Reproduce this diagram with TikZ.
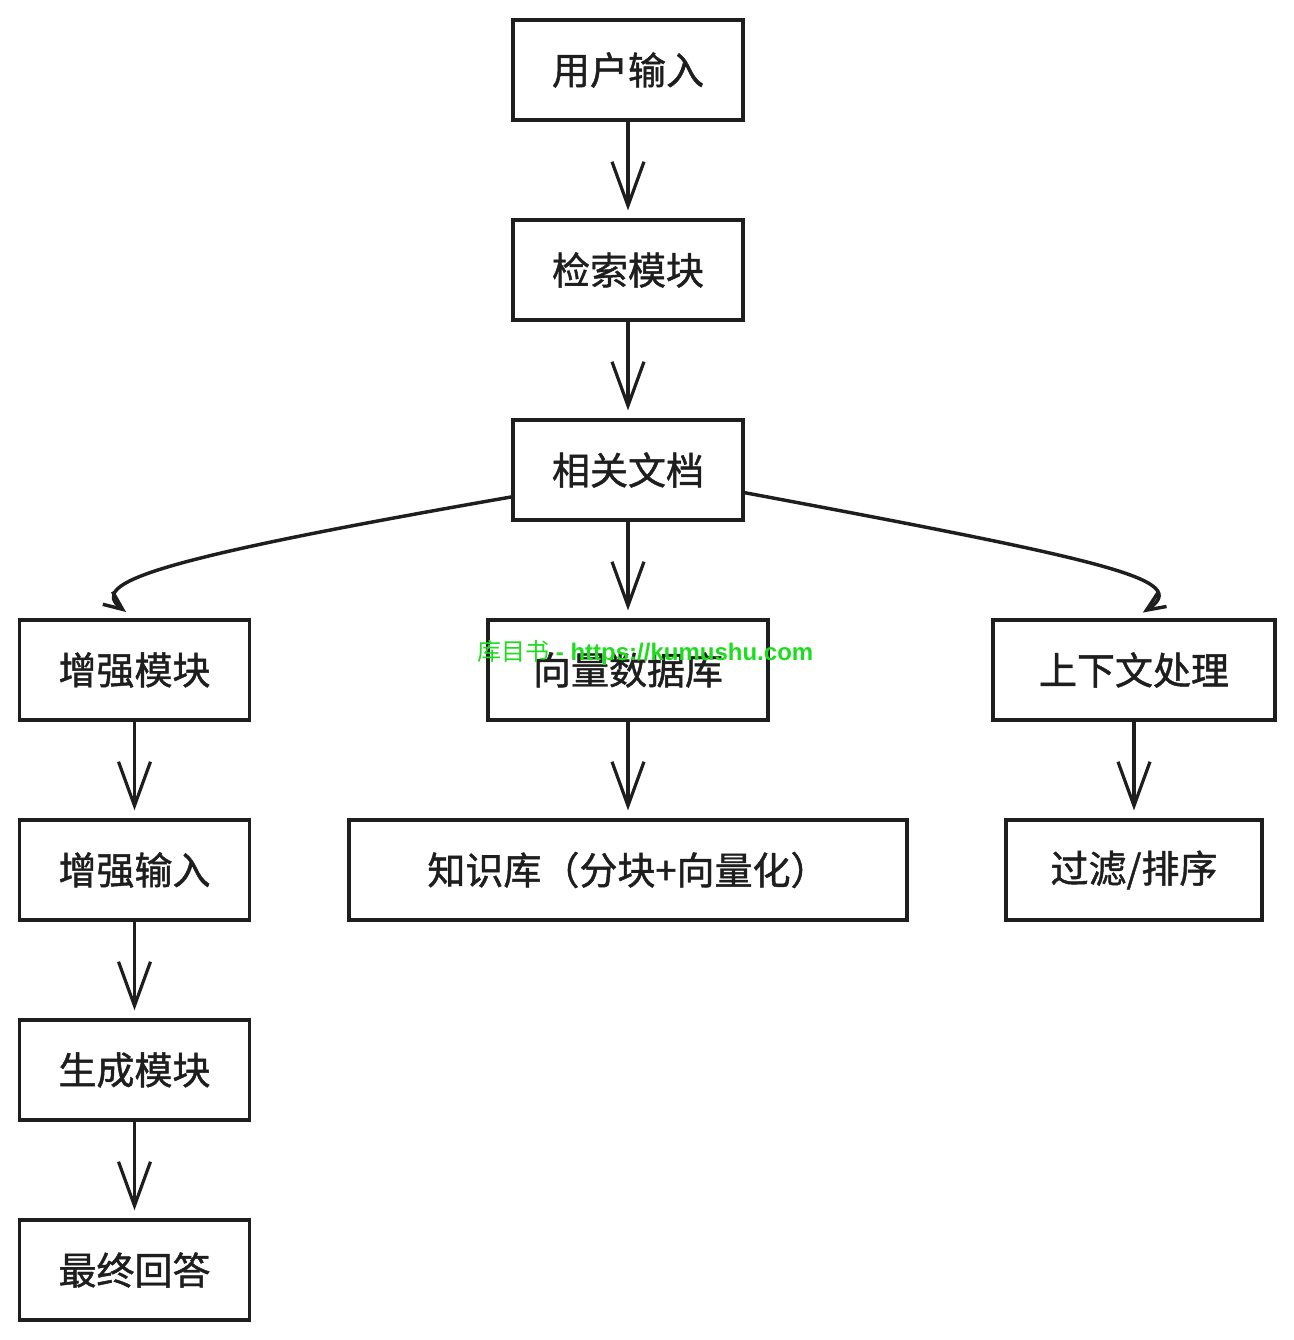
\documentclass[tikz,border=0pt]{standalone}
\usepackage{fontspec}
\setmainfont{Noto Sans CJK SC}
\newfontfamily\boxfont[FakeBold=1.2]{Noto Sans CJK SC}
\newfontfamily\wmlatin{Liberation Sans}
\usetikzlibrary{arrows.meta}
\definecolor{ink}{RGB}{30,30,30}
\definecolor{wmgreen}{RGB}{30,220,30}
\tikzset{
  box/.style={draw=ink, line width=2.4pt, fill=white, inner sep=0pt, minimum height=75pt,
              font=\boxfont\fontsize{28.5}{32}\selectfont, text=ink},
  w230/.style={minimum width=172.5pt},
  arr/.style={draw=ink, line width=2.4pt, line cap=round,
              -{Straight Barb[length=33pt,width=24pt]}, shorten >=6pt},
  carr/.style={draw=ink, line width=2.6pt, line cap=round,
              -{Straight Barb[length=14pt,width=12pt]}, shorten >=8pt},
  wm/.style={text=wmgreen, inner sep=0pt, font=\fontsize{18}{20}\selectfont}
}
\begin{document}
\begin{tikzpicture}[x=0.75pt,y=-0.75pt]
\useasboundingbox (0,0) rectangle (1294,1340);
% nodes
\node[box,w230] (inp) at (628,70) {用户输入};
\node[box,w230] (ret) at (628,270) {检索模块};
\node[box,w230] (doc) at (628,470) {相关文档};
\node[box,w230] (enh) at (134.5,670) {增强模块};
\node[box,minimum width=210pt] (vdb) at (628,670) {向量数据库};
\node[box,minimum width=211.5pt] (ctx) at (1134,670) {上下文处理};
\node[box,w230] (ein) at (134.5,870) {增强输入};
\node[box,minimum width=418.5pt] (kb) at (628,870) {知识库（分块+向量化）};
\node[box,minimum width=192pt] (flt) at (1134,870) {过滤/排序};
\node[box,w230] (gen) at (134.5,1070) {生成模块};
\node[box,w230] (ans) at (134.5,1270) {最终回答};
% connectors
\draw[arr] (inp.south) -- (ret.north);
\draw[arr] (ret.south) -- (doc.north);
\draw[arr] (doc.south) -- (vdb.north);
\draw[arr] (vdb.south) -- (kb.north);
\draw[arr] (enh.south) -- (ein.north);
\draw[arr] (ein.south) -- (gen.north);
\draw[arr] (gen.south) -- (ans.north);
\draw[arr] (ctx.south) -- (flt.north);
\draw[carr] (doc.193) .. controls (150,560) and (88,583) .. (enh.north);
\draw[carr] (doc.-11) .. controls (1115,562) and (1192,580) .. (ctx.north);
% watermark
\node[wm, anchor=west] (wmk) at (477,653) {库目书\wmlatin\bfseries{} - https://kumushu.com};
\end{tikzpicture}
\end{document}
